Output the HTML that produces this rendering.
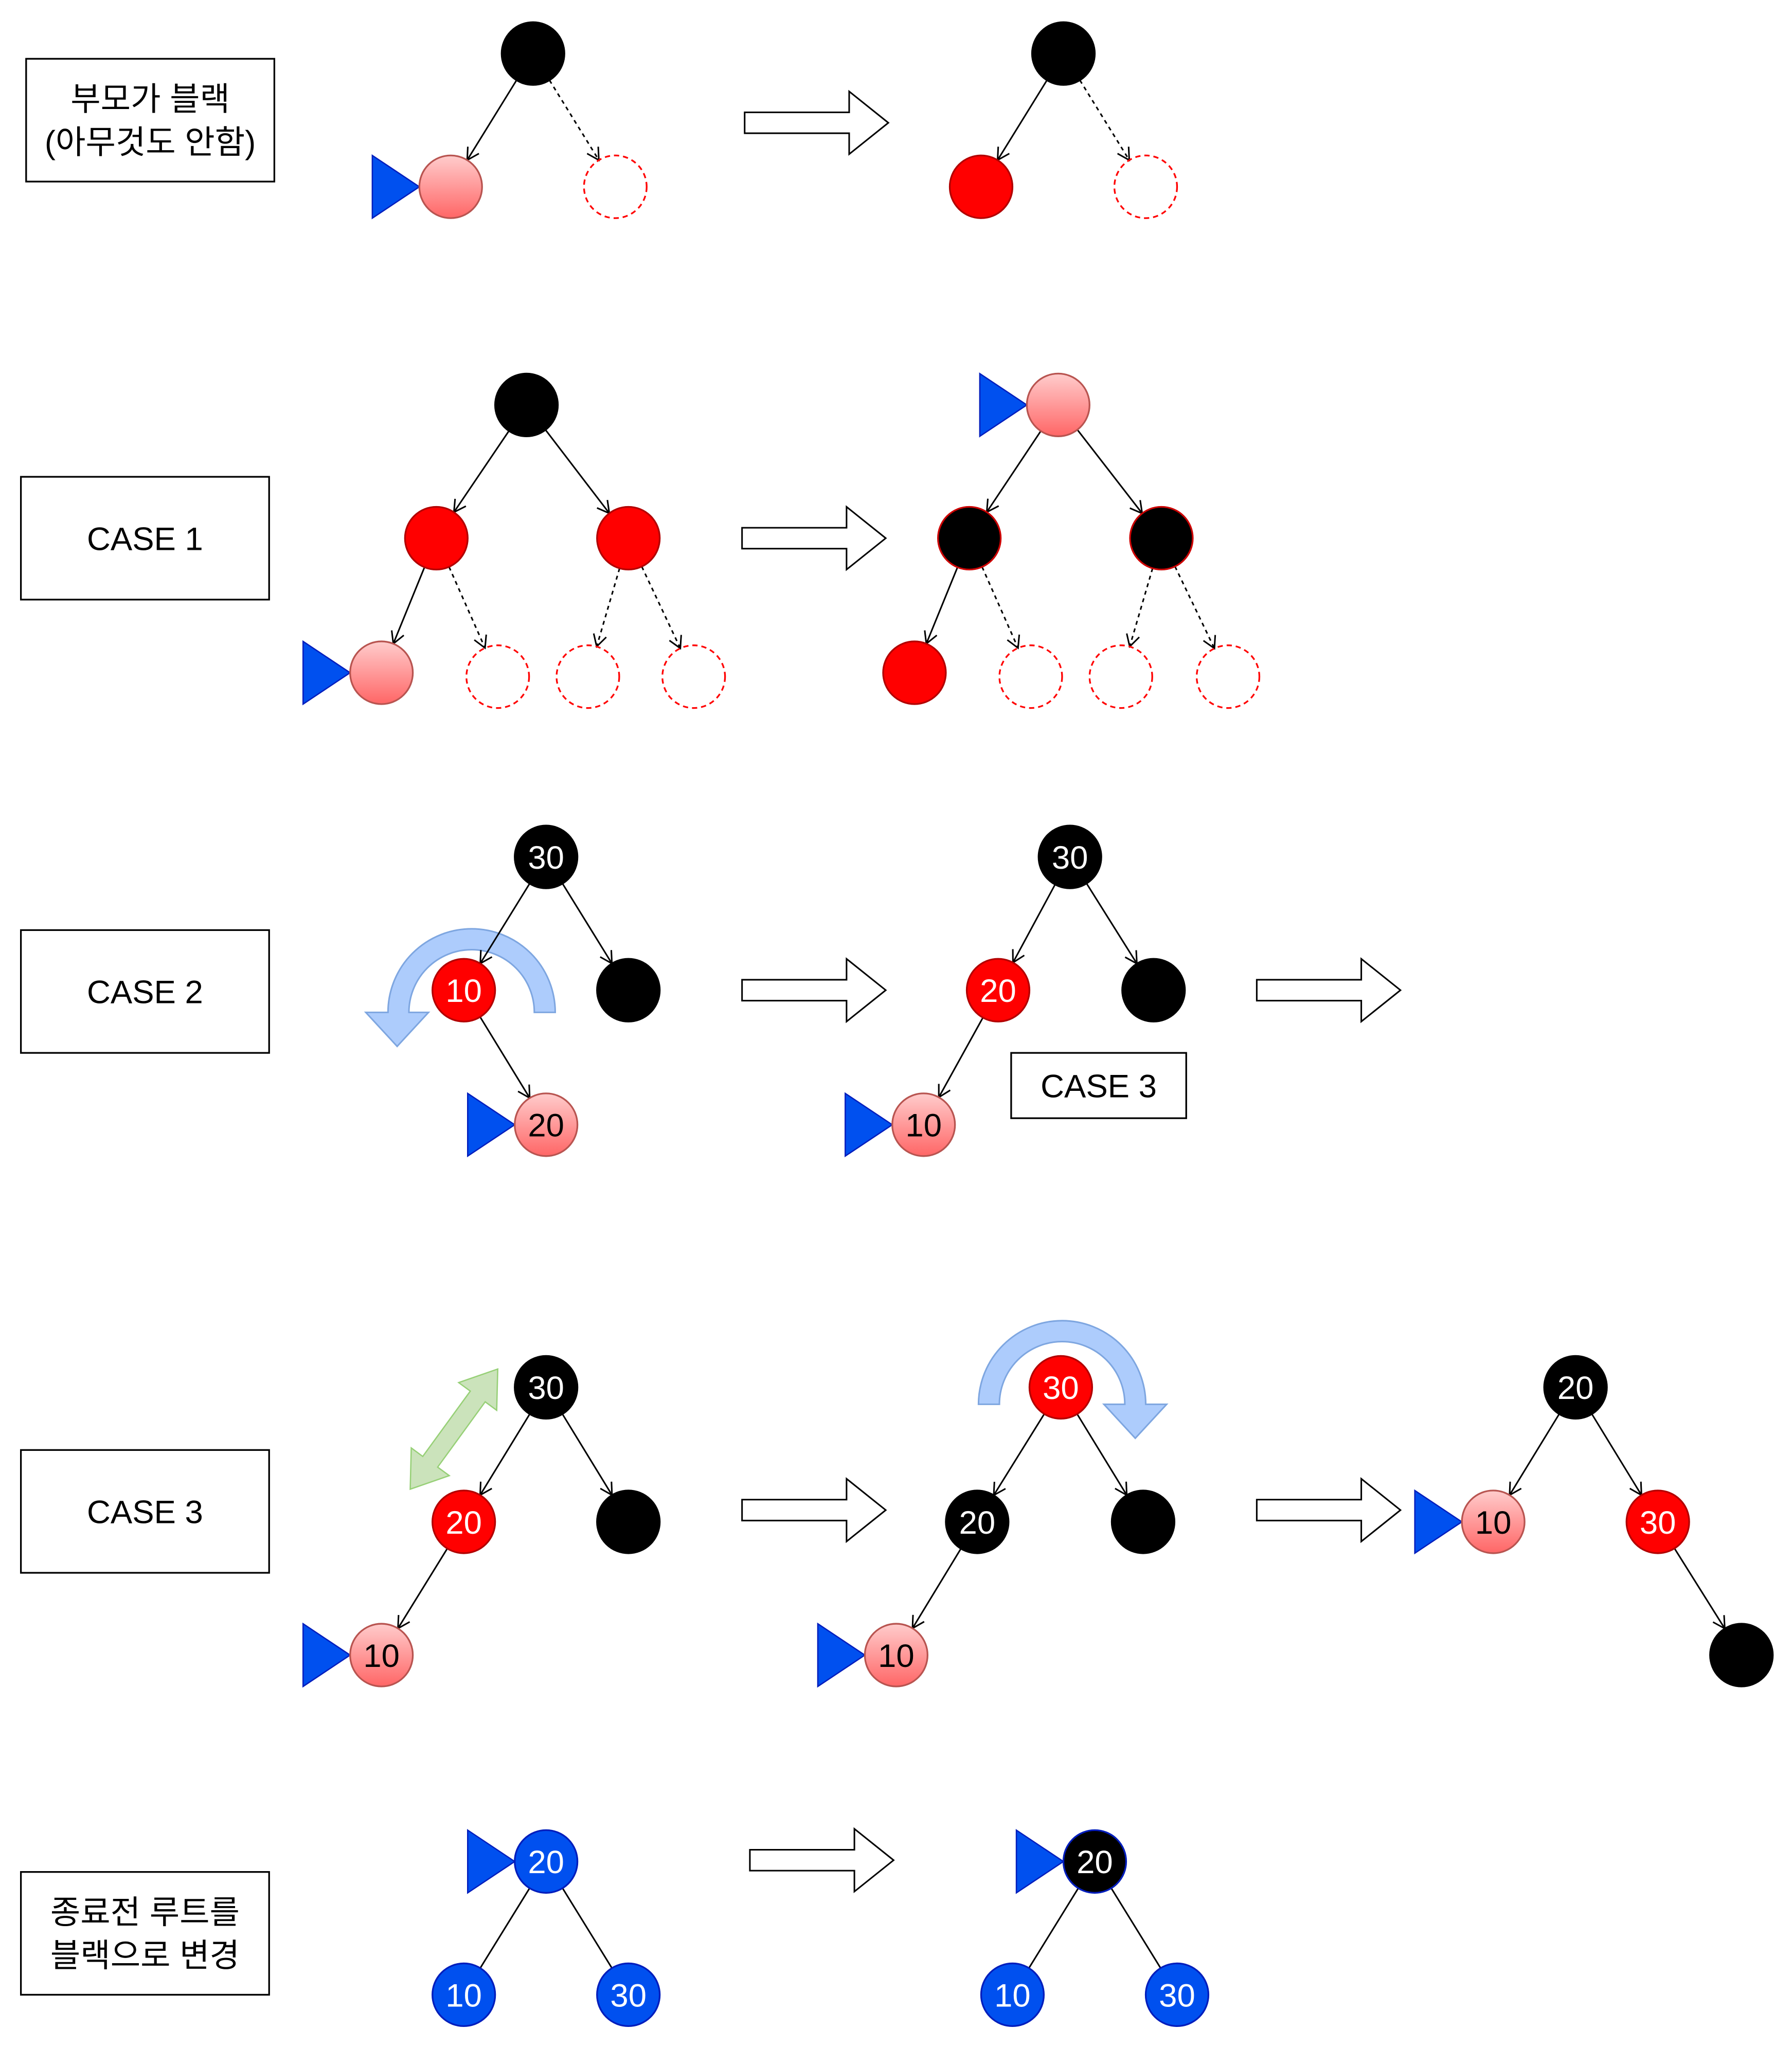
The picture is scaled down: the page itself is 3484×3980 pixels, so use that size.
<!DOCTYPE html>
<html><head><meta charset="utf-8"><style>
html,body{margin:0;padding:0;background:#fff}
svg{display:block}
text{font-family:"Liberation Sans","Noto Sans CJK KR",sans-serif}
</style></head><body>
<svg id="s" width="3484" height="3980" viewBox="0 0 1371.7 1567" preserveAspectRatio="none" xmlns="http://www.w3.org/2000/svg">
<defs>
<linearGradient id="pk" x1="0" y1="0" x2="0" y2="1"><stop offset="0" stop-color="#ffcccc"/><stop offset="1" stop-color="#ff6666"/></linearGradient>
<marker id="ar" markerWidth="12" markerHeight="12" refX="10" refY="6" orient="auto" markerUnits="userSpaceOnUse"><path d="M1,1 L10,6 L1,11" fill="none" stroke="#000" stroke-width="1.2"/></marker>
</defs>
<g id="g"></g>
</svg>
<script>
var g=document.getElementById('g'),h='';
var R=24;
function box(x1,y1,x2,y2,lines){h+='<rect x="'+x1+'" y="'+y1+'" width="'+(x2-x1)+'" height="'+(y2-y1)+'" fill="#fff" stroke="#000" stroke-width="1.3"/>';
var cy=(y1+y2)/2, n=lines.length;for(var i=0;i<n;i++){h+='<text x="'+(x1+x2)/2+'" y="'+(cy+(i-(n-1)/2)*33+9)+'" font-size="25" text-anchor="middle">'+lines[i]+'</text>';}}
function node(x,y,t,lbl){var f,s,d='',tc='#fff';
if(t=='b'){f='#000';s='#000'}else if(t=='r'){f='#ff0000';s='#b20000'}else if(t=='p'){f='url(#pk)';s='#b85450';tc='#000'}
else if(t=='d'){f='none';s='#ff0000';d=' stroke-dasharray="4 3"'}else if(t=='br'){f='#000';s='#cc0000'}
else if(t=='u'){f='#0050ef';s='#001dbc'}else if(t=='bu'){f='#000';s='#001dbc'}
h+='<circle cx="'+x+'" cy="'+y+'" r="'+R+'" fill="'+f+'" stroke="'+s+'" stroke-width="1.3"'+d+'/>';
if(lbl)h+='<text x="'+x+'" y="'+(y+9)+'" font-size="25" text-anchor="middle" fill="'+tc+'">'+lbl+'</text>';}
function edge(a,b,c,d,dash,noarrow){var dx=c-a,dy=d-b,L=Math.sqrt(dx*dx+dy*dy),ux=dx/L,uy=dy/L;
h+='<line x1="'+(a+ux*R)+'" y1="'+(b+uy*R)+'" x2="'+(c-ux*R)+'" y2="'+(d-uy*R)+'" stroke="#000" stroke-width="1.2"'+(dash?' stroke-dasharray="3 3"':'')+(noarrow?'':' marker-end="url(#ar)"')+'/>';}
function tri(x,y){h+='<polygon points="'+(x-60)+','+(y-24)+' '+(x-24)+','+y+' '+(x-60)+','+(y+24)+'" fill="#0050ef" stroke="#001dbc" stroke-width="1"/>';}
function big(x,y){h+='<polygon points="'+x+','+(y+16)+' '+(x+80)+','+(y+16)+' '+(x+80)+','+y+' '+(x+110)+','+(y+24)+' '+(x+80)+','+(y+48)+' '+(x+80)+','+(y+32)+' '+x+','+(y+32)+'" fill="#fff" stroke="#000" stroke-width="1.2"/>';}
h+='<path d="M425,775 A64,64 0 0 0 297,775 L280,775 L304,801 L328,775 L313,775 A48,48 0 0 1 409,775 Z" fill="#a9c9fc" fill-opacity="0.95" stroke="#7ea6e0" stroke-width="1.2"/>';
h+='<path d="M749,1075 A64,64 0 0 1 877,1075 L893,1075 L869,1101 L845,1075 L861,1075 A48,48 0 0 0 765,1075 Z" fill="#a9c9fc" fill-opacity="0.95" stroke="#7ea6e0" stroke-width="1.2"/>';
(function(){var x1=381,y1=1048,x2=314,y2=1140,dx=x2-x1,dy=y2-y1,L=Math.sqrt(dx*dx+dy*dy),ux=dx/L,uy=dy/L,px=-uy,py=ux,hw=7,aw=18,al=26;
function P(t,o){return (x1+ux*t+px*o).toFixed(1)+','+(y1+uy*t+py*o).toFixed(1)}
h+='<polygon points="'+[P(0,0),P(al,aw),P(al,hw),P(L-al,hw),P(L-al,aw),P(L,0),P(L-al,-aw),P(L-al,-hw),P(al,-hw),P(al,-aw)].join(' ')+'" fill="#c5e0b4" fill-opacity="0.9" stroke="#97d077" stroke-width="1"/>';})();
box(20,45,210,139,['부모가 블랙','(아무것도 안함)']);
edge(408,41,345,143);edge(408,41,471,143,1);
node(408,41,'b');tri(345,143);node(345,143,'p');node(471,143,'d');
big(570,70);
edge(814,41,751,143);edge(814,41,877,143,1);
node(814,41,'b');node(751,143,'r');node(877,143,'d');
box(16,365,206,459,['CASE 1']);
edge(403,310,334,412);edge(403,310,481,412);edge(334,412,292,515);edge(334,412,381,518,1);edge(481,412,450,518,1);edge(481,412,531,518,1);
node(403,310,'b');node(334,412,'r');node(481,412,'r');tri(292,515);node(292,515,'p');node(381,518,'d');node(450,518,'d');node(531,518,'d');
big(568,388);
edge(810,310,742,412);edge(810,310,889,412);edge(742,412,700,515);edge(742,412,789,518,1);edge(889,412,858,518,1);edge(889,412,940,518,1);
tri(810,310);node(810,310,'p');node(742,412,'br');node(889,412,'br');node(700,515,'r');node(789,518,'d');node(858,518,'d');node(940,518,'d');
box(16,712,206,806,['CASE 2']);
edge(418,656,355,758);edge(418,656,481,758);edge(355,758,418,861);
node(418,656,'b','30');node(355,758,'r','10');node(481,758,'b');tri(418,861);node(418,861,'p','20');
big(568,734);
edge(819,656,764,758);edge(819,656,883,758);edge(764,758,707,861);
node(819,656,'b','30');node(764,758,'r','20');node(883,758,'b');tri(707,861);node(707,861,'p','10');
box(774,806,908,856,['CASE 3']);
big(962,734);
box(16,1110,206,1204,['CASE 3']);
edge(418,1062,355,1165);edge(418,1062,481,1165);edge(355,1165,292,1267);
node(418,1062,'b','30');node(355,1165,'r','20');node(481,1165,'b');tri(292,1267);node(292,1267,'p','10');
big(568,1132);
edge(812,1062,748,1165);edge(812,1062,875,1165);edge(748,1165,686,1267);
node(812,1062,'r','30');node(748,1165,'b','20');node(875,1165,'b');tri(686,1267);node(686,1267,'p','10');
big(962,1132);
edge(1206,1062,1143,1165);edge(1206,1062,1269,1165);edge(1269,1165,1333,1267);
node(1206,1062,'b','20');tri(1143,1165);node(1143,1165,'p','10');node(1269,1165,'r','30');node(1333,1267,'b');
box(16,1433,206,1527,['종료전 루트를','블랙으로 변경']);
edge(418,1425,355,1527,0,1);edge(418,1425,481,1527,0,1);
tri(418,1425);node(418,1425,'u','20');node(355,1527,'u','10');node(481,1527,'u','30');
big(574,1400);
edge(838,1425,775,1527,0,1);edge(838,1425,901,1527,0,1);
tri(838,1425);node(838,1425,'bu','20');node(775,1527,'u','10');node(901,1527,'u','30');
g.innerHTML=h;
</script>
</body></html>
